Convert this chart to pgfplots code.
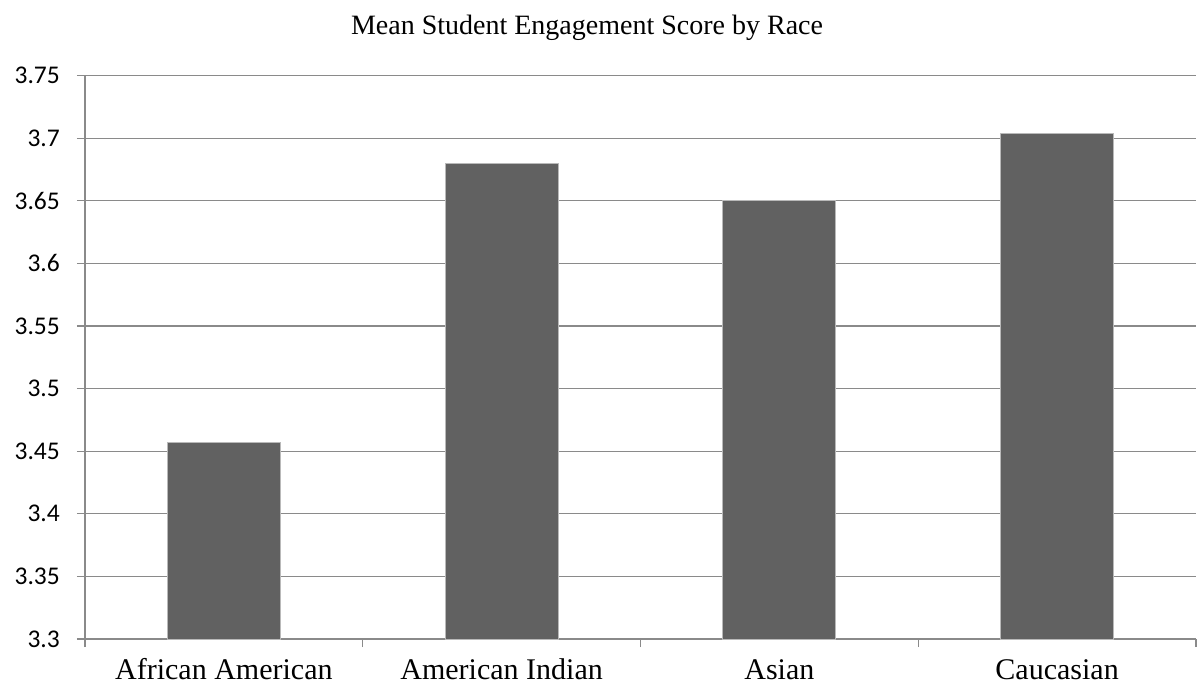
\documentclass[border=0pt]{standalone}
\usepackage{fontspec}
\setmainfont{Liberation Serif}
\newfontfamily\carlito{Carlito}
\usepackage{pgfplots}
\pgfplotsset{compat=1.18}
\definecolor{barc}{HTML}{616161}
\definecolor{gridc}{HTML}{8A8A8A}
\begin{document}
\begin{tikzpicture}[x=1pt,y=1pt]
\path[use as bounding box] (0,0) rectangle (1204,689);
\begin{axis}[
  at={(85pt,50pt)}, anchor=south west,
  scale only axis, width=1111pt, height=563.5pt,
  xmin=-0.5, xmax=3.5, ymin=3.3, ymax=3.75,
  axis x line*=bottom, axis y line*=left,
  axis line style={gridc, line width=1.2pt, -},
  xtick={0,1,2,3},
  xticklabels={African American, American Indian, Asian, Caucasian},
  major x tick style={draw=none},
  minor xtick={-0.5,0.5,1.5,2.5,3.5},
  tick align=outside,
  major tick length=8pt, minor tick length=8pt,
  tick style={gridc, line width=1.2pt},
  ytick={3.3,3.35,3.4,3.45,3.5,3.55,3.6,3.65,3.7,3.75},
  yticklabels={3.3,3.35,3.4,3.45,3.5,3.55,3.6,3.65,3.7,3.75},
  ymajorgrids, grid style={gridc, line width=1.2pt},
  xticklabel style={font=\fontsize{30}{36}\selectfont, anchor=base, inner sep=0pt, yshift=-32pt},
  yticklabel style={font=\carlito\fontsize{25.5}{30}\selectfont, anchor=east, inner sep=0pt, xshift=-17pt},
  clip=true,
]
\addplot[ybar, bar width=113pt, fill=barc, draw=gray!55, line width=0.8pt] coordinates {(0,3.457) (1,3.680) (2,3.650) (3,3.704)};
\end{axis}
\node[font=\fontsize{28}{34}\selectfont, anchor=base] at (587,654) {Mean Student Engagement Score by Race};
\end{tikzpicture}
\end{document}
